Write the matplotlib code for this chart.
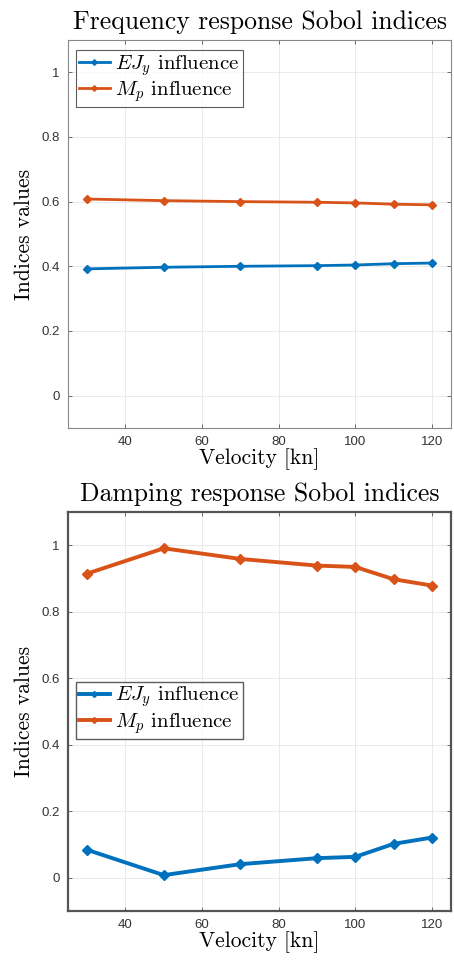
import numpy as np
import matplotlib
matplotlib.use("Agg")
import matplotlib.pyplot as plt
from matplotlib.ticker import FuncFormatter

# Velocities and Sobol indices
velocity = [30, 50, 70, 90, 100, 110, 120]

freq_ejy = [0.392, 0.397, 0.400, 0.402, 0.404, 0.408, 0.410]
freq_mp = [0.608, 0.603, 0.600, 0.598, 0.596, 0.592, 0.590]

damp_ejy = [0.084, 0.008, 0.041, 0.059, 0.063, 0.102, 0.121]
damp_mp = [0.915, 0.991, 0.959, 0.939, 0.935, 0.898, 0.879]

labels = [r'$EJ_y$ influence', r'$M_p$ influence']
titles = ['Frequency response Sobol indices', 'Damping response Sobol indices']

blue = '#0072BD'
orange = '#D95319'

plt.rcParams['mathtext.fontset'] = 'cm'
plt.rcParams['axes.unicode_minus'] = False

fig = plt.figure(figsize=(4.54, 9.6), dpi=100)
ax1 = fig.add_axes([0.1498, 0.5542, 0.8436, 0.4042])
ax2 = fig.add_axes([0.1498, 0.0510, 0.8436, 0.4156])

serif = {'family': 'cmr10'}


def style_axes(ax, title, frame_lw, frame_color):
    ax.set_xlim(25, 125)
    ax.set_ylim(-0.1, 1.1)
    ax.set_xticks([40, 60, 80, 100, 120])
    ax.set_yticks([0, 0.2, 0.4, 0.6, 0.8, 1])
    ax.yaxis.set_major_formatter(FuncFormatter(lambda v, p: '%g' % round(v, 2)))
    ax.grid(True, color='#e6e6e6', linewidth=0.6)
    ax.set_axisbelow(True)
    ax.tick_params(direction='in', top=True, right=True, length=3,
                   width=0.6, color='#555555', labelsize=9.5,
                   labelcolor='#333333', pad=6)
    for lab in ax.get_xticklabels() + ax.get_yticklabels():
        lab.set_family('Liberation Sans')
    for s in ax.spines.values():
        s.set_linewidth(frame_lw)
        s.set_color(frame_color)
    ax.set_title(title, fontdict=serif, fontsize=18.5, pad=8)
    ax.set_xlabel('Velocity [kn]', fontdict=serif, fontsize=15.5, labelpad=0)
    ax.set_ylabel('Indices values', fontdict=serif, fontsize=15.5, labelpad=5)


legend_kw = dict(loc='upper left', prop={'family': 'cmr10', 'size': 15},
                 fancybox=False, handlelength=1.5, handletextpad=0.25,
                 borderpad=0.15, labelspacing=0.1, borderaxespad=0)

# Frequency response
ax1.plot(velocity, freq_ejy, '-D', color=blue, lw=2, ms=4, label=labels[0])
ax1.plot(velocity, freq_mp, '-D', color=orange, lw=2, ms=4, label=labels[1])
style_axes(ax1, titles[0], 0.8, '#888888')
leg1 = ax1.legend(bbox_to_anchor=(0.02, 0.975), markerscale=0.7, **legend_kw)
leg1.get_frame().set_edgecolor('#333333')
leg1.get_frame().set_linewidth(0.8)

# Damping response
ax2.plot(velocity, damp_ejy, '-D', color=blue, lw=2.8, ms=5, label=labels[0])
ax2.plot(velocity, damp_mp, '-D', color=orange, lw=2.8, ms=5, label=labels[1])
style_axes(ax2, titles[1], 1.6, '#555555')
leg2 = ax2.legend(bbox_to_anchor=(0.02, 0.575), markerscale=0.6, **legend_kw)
leg2.get_frame().set_edgecolor('#333333')
leg2.get_frame().set_linewidth(1.0)

fig.savefig('out.png', dpi=100)
